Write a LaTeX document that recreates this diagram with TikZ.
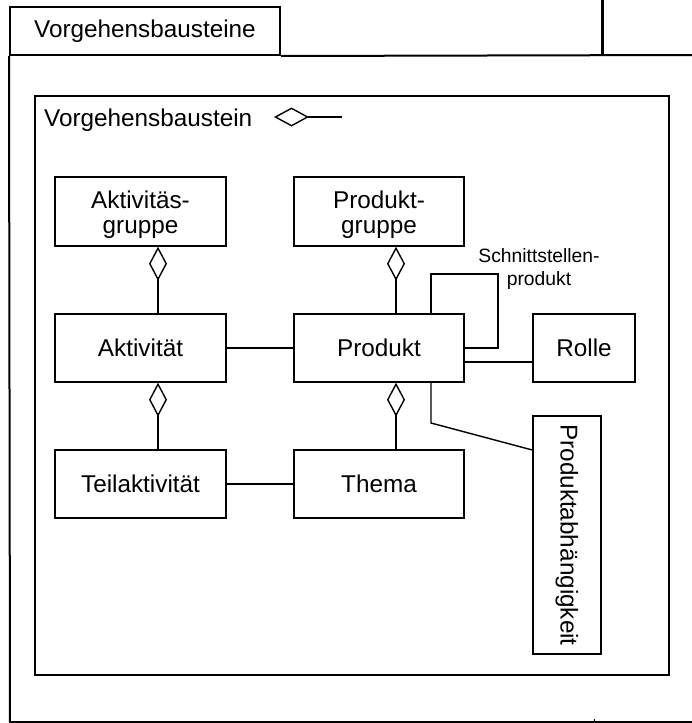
\documentclass[tikz,border=0pt]{standalone}
\usepackage{fontspec}
\setmainfont{Liberation Sans}
\usetikzlibrary{arrows.meta}
\begin{document}
\begin{tikzpicture}[x=1pt,y=-1pt,
  txt/.style={inner sep=0pt, align=center, font=\fontsize{24.3}{25}\selectfont},
  cls/.style={draw, line width=1.4pt, rectangle, inner sep=0pt, align=center,
              font=\fontsize{24.3}{25}\selectfont},
  conn/.style={line width=1.4pt},
  agg/.style={line width=1.4pt, {Diamond[open,length=34pt,width=18pt]}-},
  frame/.style={line width=2pt}]
\useasboundingbox (0,0) rectangle (692,723);

% outer package frame
\node[cls, frame, minimum width=270pt, minimum height=48pt] (tab) at (145,31) {Vorgehensbausteine};
\draw[frame] (tab.south west) -- (10,722) -- (692,722);
\draw[frame] (tab.south east) -- (692,55);
\draw[line width=3pt] (602,0) -- (602,56);
\draw[line width=1pt] (594,719) -- (594,722);

% inner container
\draw[line width=1.5pt] (35,96) rectangle (669,675);
\node[txt, anchor=west] (vbl) at (44,120) {Vorgehensbaustein};
\coordinate (dl) at (274,117);
\coordinate (dr) at (342,117);
\draw[line width=1.4pt, {Diamond[open,length=35pt,width=19pt]}-] (dl) -- (dr);

% classes
\node[cls, minimum width=171pt, minimum height=69pt] (ag) at (140.5,211.5) {};
\node[txt] (agt) at ([yshift=-3pt]ag.center) {Aktivitäs-\\gruppe};
\node[cls, minimum width=170pt, minimum height=69pt] (pg) at (379,211.5) {};
\node[txt] (pgt) at ([yshift=-3pt]pg.center) {Produkt-\\gruppe};
\node[cls, minimum width=171pt, minimum height=68pt] (akt) at (140.5,348) {Aktivität};
\node[cls, minimum width=170pt, minimum height=68pt] (prod) at (379,348) {Produkt};
\node[cls, minimum width=171pt, minimum height=68pt] (teil) at (140.5,484) {Teilaktivität};
\node[cls, minimum width=170pt, minimum height=68pt] (thema) at (379,484) {Thema};
\node[cls, minimum width=102pt, minimum height=68pt] (rolle) at (584,348) {Rolle};
\node[cls, minimum width=68pt, minimum height=238pt] (pa) at (567,535) {};
\node[txt, rotate=-90] (patext) at (pa.center) {Produktabhängigkeit};

\node[align=center, inner sep=0pt, font=\fontsize{19.3}{23}\selectfont] (snl) at (539,269.5) {Schnittstellen-\\produkt};

% helper coordinates
\coordinate (cA) at (158,0);
\coordinate (cP) at (396,0);
\coordinate (cD) at (431,0);
\coordinate (lt) at (431,274);
\coordinate (rt) at (498,274);
\coordinate (rb) at (498,348);
\coordinate (dk) at (431,423);
\coordinate (y450) at (0,450);

% aggregations
\draw[agg] (ag.south -| cA) -- (akt.north -| cA);
\draw[agg] (akt.south -| cA) -- (teil.north -| cA);
\draw[agg] (pg.south -| cP) -- (prod.north -| cP);
\draw[agg] (prod.south -| cP) -- (thema.north -| cP);

% associations
\draw[conn] (akt.east) -- (prod.west);
\draw[conn] (teil.east) -- (thema.west);
\draw[conn] (prod.north -| cD) -- (lt) -- (rt) -- (rb) -- (prod.east);
\draw[conn] ([yshift=-14pt]prod.east) -- ([yshift=-14pt]rolle.west);
\draw[conn] (prod.south -| cD) -- (dk) -- (pa.west |- y450);
\end{tikzpicture}
\end{document}
